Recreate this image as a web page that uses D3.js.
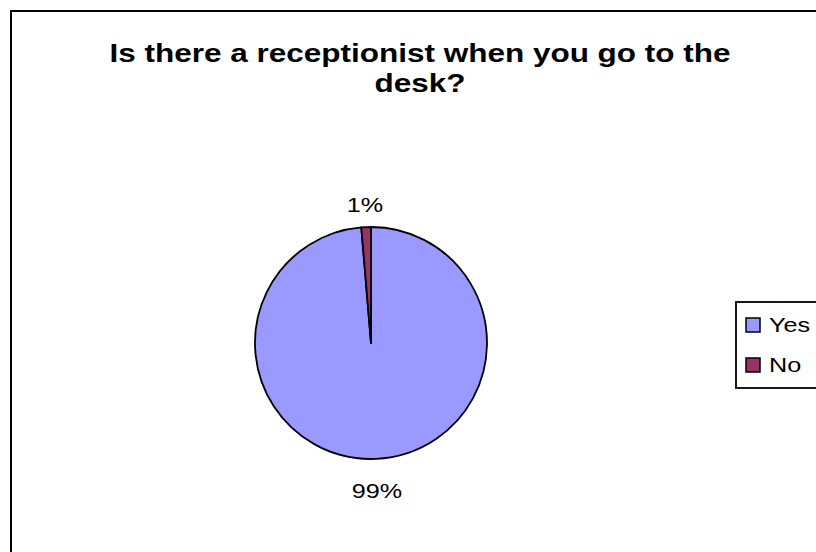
<!DOCTYPE html>
<html>
<head>
<meta charset="utf-8">
<script src="https://cdn.jsdelivr.net/npm/d3@7/dist/d3.min.js"></script>
<style>
  html, body { margin: 0; padding: 0; background: #fff; }
  svg { display: block; font-family: "Liberation Sans", Arial, sans-serif; }
</style>
</head>
<body>
<svg id="chart" width="816" height="552"></svg>
<script>
// Survey answers
const categories = ["Yes", "No"];
const counts = [74, 1];
const colors = ["#9999FF", "#993366"];
const titleLines = ["Is there a receptionist when you go to the", "desk?"];

const svg = d3.select("#chart");
const wide = 1.26; // horizontal stretch of the chart lettering

// chart area frame
svg.append("rect")
  .attr("x", 11).attr("y", 11)
  .attr("width", 830).attr("height", 560)
  .attr("fill", "#fff").attr("stroke", "#000").attr("stroke-width", 2);

// title
svg.selectAll("text.title").data(titleLines).join("text")
  .attr("class", "title")
  .attr("text-anchor", "middle")
  .attr("font-weight", "bold")
  .attr("font-size", 25)
  .attr("transform", (d, i) => `translate(420,${62 + i * 30}) scale(${wide},1)`)
  .text(d => d);

// pie
const cx = 371, cy = 343, r = 116;
const total = d3.sum(counts);
const data = categories.map((c, i) => ({ cat: c, value: counts[i], color: colors[i] }));
const pie = d3.pie().value(d => d.value).sort(null);
const arcs = pie(data);
const arc = d3.arc().innerRadius(0).outerRadius(r);

const g = svg.append("g").attr("transform", `translate(${cx},${cy})`);
g.selectAll("path").data(arcs).join("path")
  .attr("d", arc)
  .attr("fill", d => d.data.color)
  .attr("stroke", "#000")
  .attr("stroke-width", 1.8)
  .attr("stroke-linejoin", "round");

// percentage labels outside each slice
const pct = d3.format(".0%");
const labelR = 143;
g.selectAll("text.lbl").data(arcs).join("text")
  .attr("class", "lbl")
  .attr("text-anchor", "middle")
  .attr("font-size", 20)
  .attr("dy", "0.35em")
  .attr("transform", d => {
    const a = (d.startAngle + d.endAngle) / 2;
    return `translate(${Math.sin(a) * labelR},${-Math.cos(a) * labelR + 5}) scale(${wide},1)`;
  })
  .text(d => pct(d.data.value / total));

// legend
const lg = svg.append("g").attr("transform", "translate(736,302)");
lg.append("rect")
  .attr("x", 0).attr("y", 0)
  .attr("width", 120).attr("height", 86)
  .attr("fill", "#fff").attr("stroke", "#000").attr("stroke-width", 1.8);
const items = lg.selectAll("g.item").data(data).join("g")
  .attr("class", "item")
  .attr("transform", (d, i) => `translate(10,${16 + i * 40})`);
items.append("rect")
  .attr("width", 14).attr("height", 14)
  .attr("fill", d => d.color)
  .attr("stroke", "#000").attr("stroke-width", 1.5);
items.append("text")
  .attr("transform", `translate(23,7) scale(${wide},1)`)
  .attr("dy", "0.35em")
  .attr("font-size", 20)
  .text(d => d.cat);
</script>
</body>
</html>
